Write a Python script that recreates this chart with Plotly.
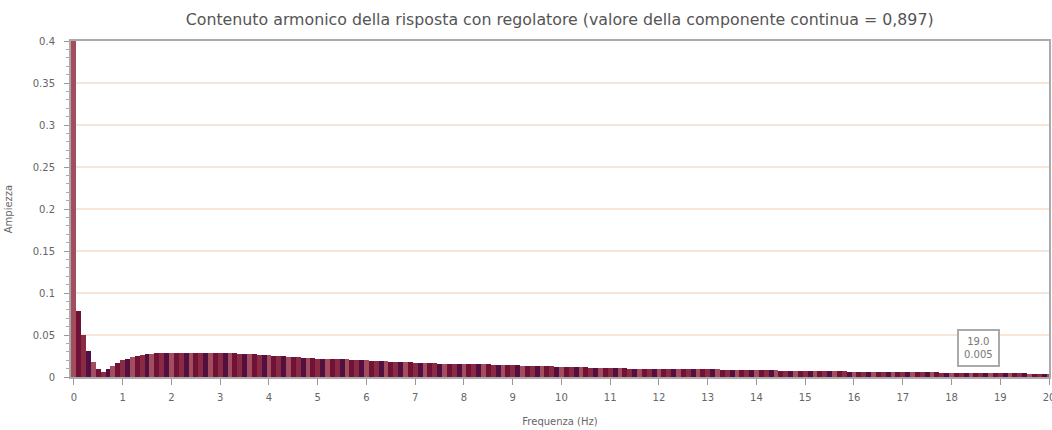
import plotly.graph_objects as go

title_text = "Contenuto armonico della risposta con regolatore (valore della componente continua = 0,897)"
x_title = "Frequenza (Hz)"
y_title = "Ampiezza"

freq_step = 0.1
amplitudes = [
    0.400, 0.078, 0.050, 0.031, 0.018, 0.009, 0.006, 0.009, 0.013, 0.017,
    0.020, 0.022, 0.024, 0.025, 0.026, 0.027, 0.027, 0.028, 0.028, 0.028,
    0.029, 0.029, 0.029, 0.029, 0.029, 0.029, 0.029, 0.028, 0.028, 0.028,
    0.028, 0.028, 0.028, 0.028, 0.027, 0.027, 0.027, 0.027, 0.026, 0.026,
    0.026, 0.025, 0.025, 0.025, 0.024, 0.024, 0.024, 0.023, 0.023, 0.023,
    0.022, 0.022, 0.022, 0.021, 0.021, 0.021, 0.021, 0.020, 0.020, 0.020,
    0.020, 0.019, 0.019, 0.019, 0.019, 0.018, 0.018, 0.018, 0.018, 0.018,
    0.017, 0.017, 0.017, 0.017, 0.017, 0.016, 0.016, 0.016, 0.016, 0.016,
    0.015, 0.015, 0.015, 0.015, 0.015, 0.015, 0.014, 0.014, 0.014, 0.014,
    0.014, 0.014, 0.013, 0.013, 0.013, 0.013, 0.013, 0.013, 0.013, 0.012,
    0.012, 0.012, 0.012, 0.012, 0.012, 0.012, 0.011, 0.011, 0.011, 0.011,
    0.011, 0.011, 0.011, 0.011, 0.010, 0.010, 0.010, 0.010, 0.010, 0.010,
    0.010, 0.010, 0.010, 0.009, 0.009, 0.009, 0.009, 0.009, 0.009, 0.009,
    0.009, 0.009, 0.009, 0.008, 0.008, 0.008, 0.008, 0.008, 0.008, 0.008,
    0.008, 0.008, 0.008, 0.008, 0.008, 0.007, 0.007, 0.007, 0.007, 0.007,
    0.007, 0.007, 0.007, 0.007, 0.007, 0.007, 0.007, 0.007, 0.007, 0.006,
    0.006, 0.006, 0.006, 0.006, 0.006, 0.006, 0.006, 0.006, 0.006, 0.006,
    0.006, 0.006, 0.006, 0.006, 0.006, 0.006, 0.006, 0.006, 0.005, 0.005,
    0.005, 0.005, 0.005, 0.005, 0.005, 0.005, 0.005, 0.005, 0.005, 0.005,
    0.005, 0.005, 0.005, 0.005, 0.005, 0.005, 0.004, 0.004, 0.004, 0.004,
    0.004,
]
frequencies = [round(i * freq_step, 1) for i in range(len(amplitudes))]

y_tick_vals = [0, 0.05, 0.1, 0.15, 0.2, 0.25, 0.3, 0.35, 0.4]
y_tick_text = ["0", "0.05", "0.1", "0.15", "0.2", "0.25", "0.3", "0.35", "0.4"]
x_tick_vals = list(range(0, 21))

tooltip_x = 19.0
tooltip_y = 0.034
tooltip_lines = ["19.0", "0.005"]

palette = ["#a34d5e", "#6e1236", "#8a2a45", "#521040"]
bar_colors = [palette[i % len(palette)] for i in range(len(amplitudes))]

fig = go.Figure()
fig.add_trace(go.Bar(
    x=frequencies, y=amplitudes, width=freq_step,
    marker=dict(color=bar_colors, line=dict(width=0)),
))

fig.add_annotation(
    x=tooltip_x, y=tooltip_y, xref="x", yref="y",
    text="<br>".join(tooltip_lines), showarrow=False,
    xanchor="right", yanchor="middle",
    font=dict(family="DejaVu Sans, sans-serif", size=10, color="#777"),
    bordercolor="#aaa", borderwidth=2, bgcolor="white", borderpad=5,
)

font_family = "DejaVu Sans, Verdana, sans-serif"
axis_font = dict(family=font_family, size=10, color="#666")

fig.update_layout(
    width=1052, height=430,
    margin=dict(l=71, r=3, t=41, b=53, autoexpand=False),
    paper_bgcolor="white", plot_bgcolor="white",
    showlegend=False, bargap=0,
    title=dict(text=title_text, x=0.532, xanchor="center", y=0.955, yanchor="middle",
               font=dict(family=font_family, size=15.8, color="#555")),
    xaxis=dict(
        range=[-0.06, 20.0], tickvals=x_tick_vals, ticktext=[str(v) for v in x_tick_vals],
        ticks="outside", ticklen=6, tickcolor="#999", tickfont=axis_font,
        ticklabelstandoff=4, ticklabeloverflow="allow",
        showline=True, linecolor="#aaa", linewidth=2, mirror=True,
        showgrid=False, zeroline=False, automargin=False,
        title=dict(text=x_title, font=axis_font, standoff=16),
    ),
    yaxis=dict(
        range=[0, 0.4], tickvals=y_tick_vals, ticktext=y_tick_text,
        ticks="outside", ticklen=5, tickcolor="#999", tickfont=axis_font,
        ticklabelstandoff=7,
        minor=dict(ticks="outside", ticklen=3, tickcolor="#aaa", dtick=0.01, showgrid=False),
        showline=True, linecolor="#aaa", linewidth=2, mirror=True,
        showgrid=True, gridcolor="#f7e6d8", gridwidth=2, zeroline=False, automargin=False,
        title=dict(text=y_title, font=axis_font, standoff=18),
    ),
)

fig.write_html("out.html", config={"displayModeBar": False},
               post_script="document.body.style.margin='0';")
